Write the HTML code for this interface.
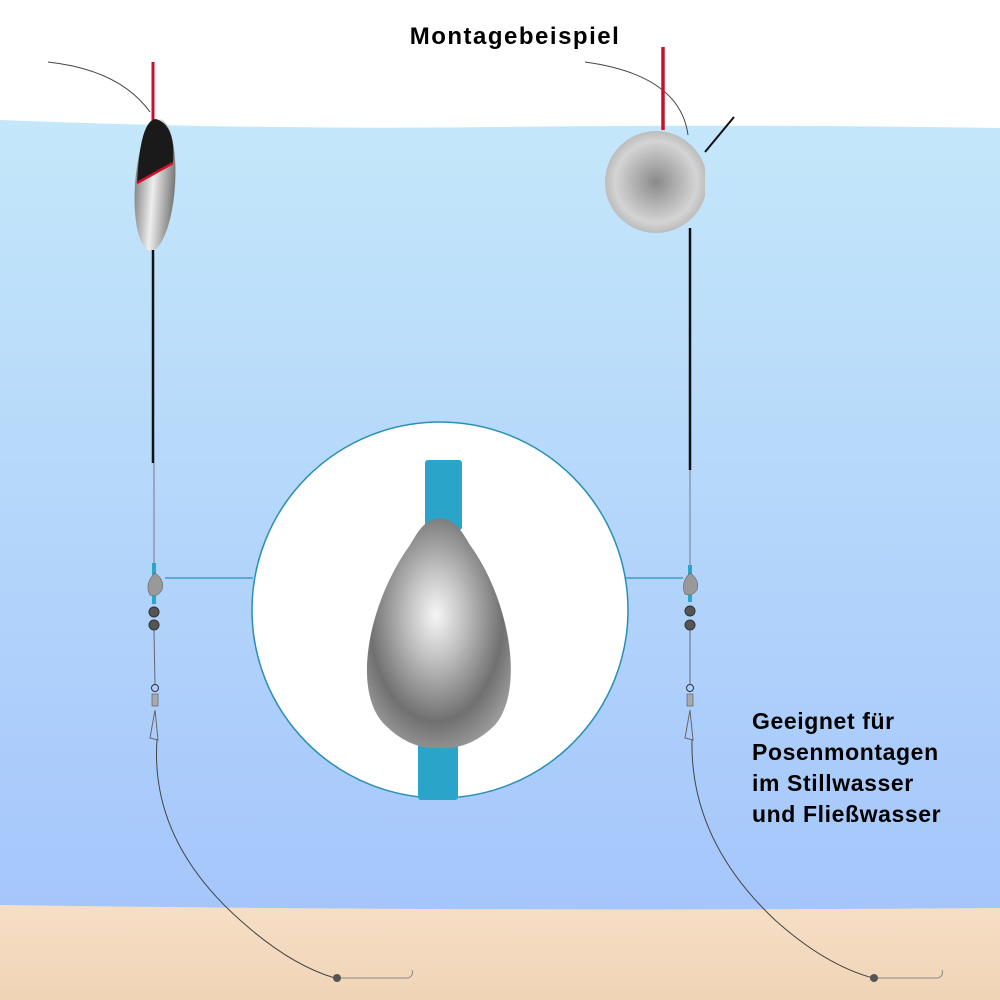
<!DOCTYPE html>
<html><head><style>body{margin:0}svg{display:block}</style></head><body>
<svg width="1000" height="1000" viewBox="0 0 1000 1000" xmlns="http://www.w3.org/2000/svg">
<defs>
<linearGradient id="w" x1="0" y1="0" x2="0" y2="1"><stop offset="0" stop-color="#c4e7fa"/><stop offset="1" stop-color="#a5c6fb"/></linearGradient>
<linearGradient id="s" x1="0" y1="0" x2="0" y2="1"><stop offset="0" stop-color="#f6dfc6"/><stop offset="1" stop-color="#f0d4b6"/></linearGradient>
<radialGradient id="ball" cx="0.5" cy="0.5" r="0.5"><stop offset="0" stop-color="#8a8a8a"/><stop offset="0.8" stop-color="#d4d4d4"/><stop offset="1" stop-color="#bcbcbc"/></radialGradient>
<linearGradient id="fl" x1="0" y1="0" x2="1" y2="0"><stop offset="0" stop-color="#888"/><stop offset="0.45" stop-color="#eee"/><stop offset="1" stop-color="#777"/></linearGradient>
<radialGradient id="pear" cx="0.48" cy="0.42" r="0.62"><stop offset="0" stop-color="#f6f6f6"/><stop offset="0.3" stop-color="#c4c4c4"/><stop offset="0.75" stop-color="#707070"/><stop offset="1" stop-color="#9a9a9a"/></radialGradient>
<clipPath id="cc"><rect x="0" y="0" width="705" height="1000"/></clipPath>
</defs>
<rect width="1000" height="1000" fill="#fff"/>
<path d="M0 120 Q250 130 500 127 T1000 128 V910 H0Z" fill="url(#w)"/>
<path d="M0 905 Q500 912 1000 908 V1000 H0Z" fill="url(#s)"/>
<text x="515" y="44" text-anchor="middle" font-family="Liberation Sans,sans-serif" font-weight="bold" font-size="24" letter-spacing="1.5">Montagebeispiel</text>
<!-- left rig -->
<path d="M48 62 Q120 70 150 112" fill="none" stroke="#444" stroke-width="1"/>
<line x1="153" y1="62" x2="153" y2="122" stroke="#c8102e" stroke-width="3"/>
<ellipse cx="155" cy="185" rx="20" ry="66" transform="rotate(4 155 185)" fill="url(#fl)"/>
<path d="M137 183 Q140 120 156 119 Q176 125 173 163 Z" fill="#1a1a1a"/>
<path d="M137 183 L173 163" stroke="#d0102a" stroke-width="2.5"/>
<line x1="153" y1="250" x2="153" y2="463" stroke="#111" stroke-width="2.5"/>
<line x1="154" y1="463" x2="154" y2="565" stroke="#778" stroke-width="1"/>
<rect x="152" y="563" width="4" height="12" fill="#2aa6c9"/>
<rect x="152" y="596" width="4" height="8" fill="#2aa6c9"/>
<path d="M155 573 Q165 580 162 590 Q157 598 150 595 Q144 584 155 573Z" fill="#999" stroke="#666" stroke-width="0.6"/>
<circle cx="154" cy="612" r="5" fill="#555" stroke="#333"/>
<circle cx="154" cy="625" r="5" fill="#555" stroke="#333"/>
<line x1="154" y1="630" x2="155" y2="685" stroke="#667" stroke-width="1"/>
<circle cx="155" cy="688" r="3.5" fill="none" stroke="#333"/>
<rect x="152" y="694" width="6" height="12" fill="#aaa" stroke="#555" stroke-width="0.6"/>
<path d="M155 710 L150 738 L158 740 Z" fill="none" stroke="#666"/>
<path d="M157 740 Q150 840 240 920 Q290 965 335 978" fill="none" stroke="#444" stroke-width="1"/>
<circle cx="337" cy="978" r="4" fill="#555"/>
<path d="M341 978 L408 978 Q414 976 412 970" fill="none" stroke="#888" stroke-width="1"/>
<line x1="165" y1="578" x2="253" y2="578" stroke="#2a8fb5" stroke-width="1.3"/>
<!-- right rig -->
<path d="M585 62 Q680 75 688 135" fill="none" stroke="#444" stroke-width="1"/>
<line x1="663" y1="47" x2="663" y2="130" stroke="#c8102e" stroke-width="3.5"/>
<circle cx="656" cy="182" r="51" fill="url(#ball)" clip-path="url(#cc)"/>
<line x1="705" y1="152" x2="734" y2="117" stroke="#111" stroke-width="2"/>
<line x1="690" y1="228" x2="690" y2="470" stroke="#111" stroke-width="2.5"/>
<line x1="690" y1="470" x2="690" y2="565" stroke="#778" stroke-width="1"/>
<rect x="688" y="565" width="4" height="10" fill="#2aa6c9"/>
<rect x="688" y="594" width="4" height="8" fill="#2aa6c9"/>
<path d="M690 573 Q700 580 697 590 Q692 597 685 594 Q680 583 690 573Z" fill="#999" stroke="#666" stroke-width="0.6"/>
<circle cx="690" cy="611" r="5" fill="#555" stroke="#333"/>
<circle cx="690" cy="625" r="5" fill="#555" stroke="#333"/>
<line x1="690" y1="630" x2="690" y2="685" stroke="#667" stroke-width="1"/>
<circle cx="690" cy="688" r="3.5" fill="none" stroke="#333"/>
<rect x="687" y="694" width="6" height="12" fill="#aaa" stroke="#555" stroke-width="0.6"/>
<path d="M690 710 L685 738 L693 740 Z" fill="none" stroke="#666"/>
<path d="M692 740 Q690 840 775 920 Q825 965 873 978" fill="none" stroke="#444" stroke-width="1"/>
<circle cx="874" cy="978" r="4" fill="#555"/>
<path d="M878 978 L938 978 Q944 976 942 970" fill="none" stroke="#888" stroke-width="1"/>
<line x1="622" y1="578" x2="683" y2="578" stroke="#2a8fb5" stroke-width="1.3"/>
<!-- big circle -->
<circle cx="440" cy="610" r="188" fill="#fff" stroke="#2a8fb5" stroke-width="1.5"/>
<rect x="425" y="460" width="37" height="70" rx="3" fill="#2aa4c8"/>
<rect x="418" y="735" width="40" height="65" rx="3" fill="#2aa4c8"/>
<path d="M440 518 C425 520 420 528 410 545 C370 600 350 690 385 725 Q410 750 440 748 Q470 750 495 725 C525 690 510 600 470 545 C460 528 455 520 440 518Z" fill="url(#pear)"/>
<g font-family="Liberation Sans,sans-serif" font-weight="bold" font-size="23" letter-spacing="0.6" fill="#000">
<text x="752" y="729">Geeignet für</text>
<text x="752" y="760">Posenmontagen</text>
<text x="752" y="791">im Stillwasser</text>
<text x="752" y="822">und Fließwasser</text>
</g>
</svg>
</body></html>
